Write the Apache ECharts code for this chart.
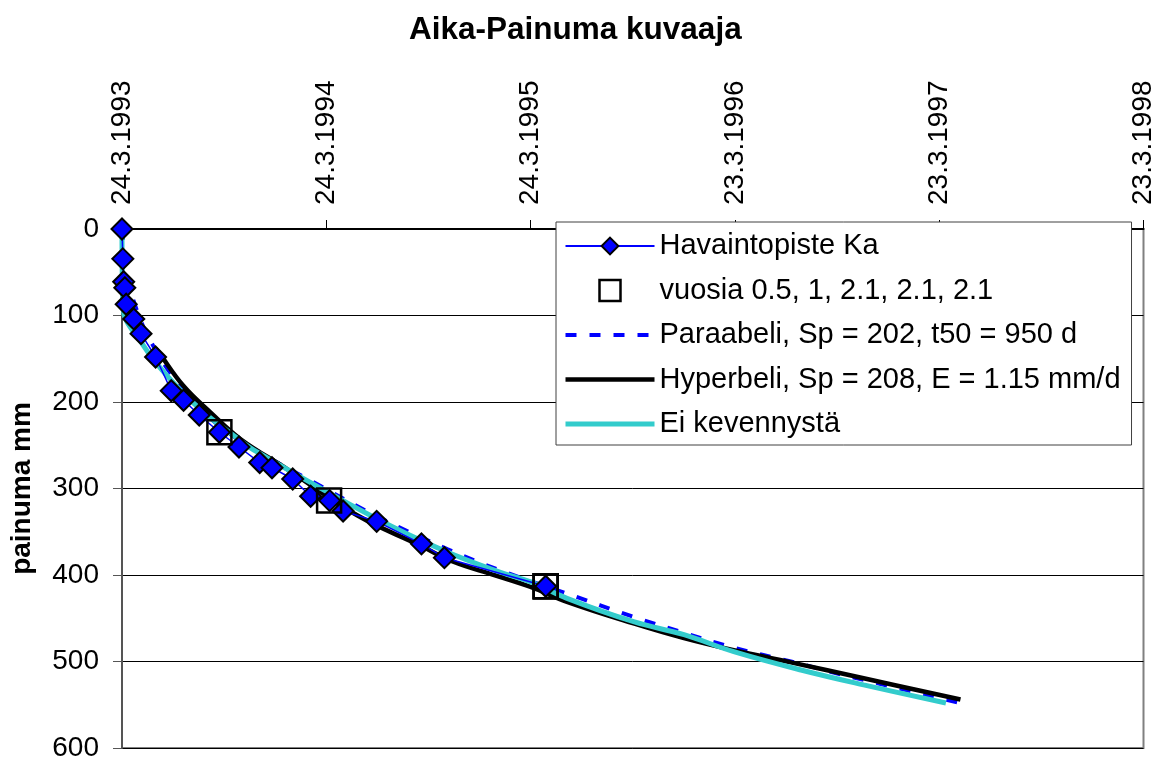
<!DOCTYPE html>
<html>
<head>
<meta charset="utf-8">
<script src="https://cdn.jsdelivr.net/npm/echarts@6/dist/echarts.min.js"></script>
<style>
  html, body { margin: 0; padding: 0; background: #fff; }
  #chart { width: 1162px; height: 762px; }
</style>
</head>
<body>
<div id="chart"></div>
<script>
// x = days from 24.3.1993
const START = Date.UTC(1993, 2, 24);

// Havaintopiste Ka (observations)
const obsDays   = [0, 1.5, 3, 5, 7.5, 21, 34, 60, 88, 110, 138, 174, 209, 246, 268, 305, 337, 371, 395, 455, 535, 576, 757];
const obsSettle = [0, 34.5, 61, 68, 87, 104, 121, 148, 187, 198, 215, 235, 252, 270, 276, 289, 309, 314, 326, 338, 364, 380, 413];

// vuosia 0.5, 1, 2.1, 2.1, 2.1
const yearDays   = [174, 370, 757, 757, 757];
const yearSettle = [235, 314, 413, 413, 413];

// Paraabeli
const paraDays   = [0, 10, 30, 60, 100, 150, 200, 246, 283, 337, 455, 581, 676, 795, 914, 1004, 1093, 1195, 1284, 1498];
const paraSettle = [0, 55, 100, 140, 178, 214, 240, 258, 272, 291, 332, 370, 394.7, 421.5, 448.4, 466.8, 484, 500, 514.8, 548];

// Hyperbeli
const hypDays   = [60, 66, 110, 158, 212, 295, 420, 533, 593, 665, 730, 795, 914, 1004, 1093, 1195, 1325, 1498];
const hypSettle = [138, 143, 181.6, 212, 243, 277.5, 331, 366, 385, 400, 413.8, 431, 456, 473, 487, 501, 519.4, 544];

// Ei kevennystä
const eiDays   = [0, 1.5, 39, 81, 140, 200, 242, 455, 581, 676, 730, 795, 914, 1004, 1093, 1213, 1325, 1472];
const eiSettle = [0, 89, 135.5, 170, 208.5, 239, 258, 335, 373.5, 396.8, 408, 427, 454, 469, 488.6, 509.8, 527, 548];

const yTicks = { min: 0, max: 600, interval: 100 };
const xTicks = { min: 0, max: 1825, interval: 365 };

function pairs(xs, ys) { return xs.map((x, i) => [x, ys[i]]); }

const chart = echarts.init(document.getElementById('chart'));
const font = 'Liberation Sans, Arial, sans-serif';
const noMarker = { color: 'rgba(0,0,0,0)', borderWidth: 0 };

chart.setOption({
  animation: false,
  backgroundColor: '#fff',
  title: {
    text: 'Aika-Painuma kuvaaja',
    left: 404,
    top: 9,
    textStyle: { fontFamily: font, fontSize: 31.5, fontWeight: 'bold', color: '#000' }
  },
  grid: {
    left: 121.5, right: 18.5, top: 229, bottom: 11,
    show: true, borderColor: '#808080', borderWidth: 2, backgroundColor: 'transparent'
  },
  legend: {
    orient: 'vertical',
    left: 556, top: 222,
    padding: [9, 11, 6, 7],
    backgroundColor: '#fff',
    borderColor: '#404040', borderWidth: 1,
    itemWidth: 89, itemHeight: 21, itemGap: 14.5,
    textStyle: { fontFamily: font, fontSize: 29, color: '#000', lineHeight: 30 },
    data: [
      { name: 'Havaintopiste Ka', lineStyle: { width: 2 } },
      { name: 'vuosia 0.5, 1, 2.1, 2.1, 2.1', icon: 'path://M0,0H10V10H0Z',
        itemStyle: { color: 'rgba(0,0,0,0)', borderColor: '#000', borderWidth: 2.5 } },
      { name: 'Paraabeli, Sp = 202, t50 = 950 d', itemStyle: noMarker, lineStyle: { width: 4 } },
      { name: 'Hyperbeli, Sp = 208, E = 1.15 mm/d', itemStyle: noMarker, lineStyle: { width: 4.5 } },
      { name: 'Ei kevennystä', itemStyle: noMarker, lineStyle: { width: 5 } }
    ]
  },
  xAxis: {
    type: 'value',
    position: 'top',
    min: xTicks.min, max: xTicks.max, interval: xTicks.interval,
    splitLine: { show: false },
    axisLine: { onZero: false, lineStyle: { color: '#000', width: 2 } },
    axisTick: { show: true, inside: false, length: 9, lineStyle: { color: '#000', width: 1 } },
    axisLabel: {
      rotate: -90, margin: 24,
      fontFamily: font, fontSize: 28, color: '#000',
      formatter: function (v) {
        const d = new Date(START + v * 86400000);
        return d.getUTCDate() + '.' + (d.getUTCMonth() + 1) + '.' + d.getUTCFullYear();
      }
    }
  },
  yAxis: {
    type: 'value',
    inverse: true,
    min: yTicks.min, max: yTicks.max, interval: yTicks.interval,
    name: 'painuma mm',
    nameLocation: 'middle',
    nameRotate: 90,
    nameGap: 86,
    nameTextStyle: { fontFamily: font, fontSize: 28, fontWeight: 'bold', color: '#000' },
    axisLine: { show: true, lineStyle: { color: '#555', width: 2 } },
    axisTick: { show: true, inside: false, length: 9, lineStyle: { color: '#555', width: 1 } },
    axisLabel: { margin: 23, fontFamily: font, fontSize: 28, color: '#000' },
    splitLine: { show: true, lineStyle: { color: '#000', width: 1 } }
  },
  series: [
    {
      name: 'Havaintopiste Ka',
      type: 'line',
      z: 6,
      data: pairs(obsDays, obsSettle),
      symbol: 'diamond',
      symbolSize: 21,
      lineStyle: { color: '#0000ff', width: 1.5 },
      itemStyle: { color: '#0000ff', borderColor: '#000', borderWidth: 2 }
    },
    {
      name: 'vuosia 0.5, 1, 2.1, 2.1, 2.1',
      type: 'scatter',
      z: 7,
      data: pairs(yearDays, yearSettle),
      symbol: 'rect',
      symbolSize: 24,
      itemStyle: { color: 'rgba(0,0,0,0)', borderColor: '#000', borderWidth: 2.5, opacity: 1 }
    },
    {
      name: 'Paraabeli, Sp = 202, t50 = 950 d',
      type: 'line',
      z: 3,
      data: pairs(paraDays, paraSettle),
      smooth: 0.4,
      showSymbol: false, symbol: 'none',
      lineStyle: { color: '#0000ff', width: 4, type: [11, 13] },
      itemStyle: { color: '#0000ff' }
    },
    {
      name: 'Hyperbeli, Sp = 208, E = 1.15 mm/d',
      type: 'line',
      z: 4,
      data: pairs(hypDays, hypSettle),
      smooth: 0.4,
      showSymbol: false, symbol: 'none',
      lineStyle: { color: '#000', width: 4.5 },
      itemStyle: { color: '#000' }
    },
    {
      name: 'Ei kevennystä',
      type: 'line',
      z: 5,
      data: pairs(eiDays, eiSettle),
      smooth: 0.4,
      showSymbol: false, symbol: 'none',
      lineStyle: { color: '#33cccc', width: 5 },
      itemStyle: { color: '#33cccc' }
    }
  ]
});
</script>
</body>
</html>
